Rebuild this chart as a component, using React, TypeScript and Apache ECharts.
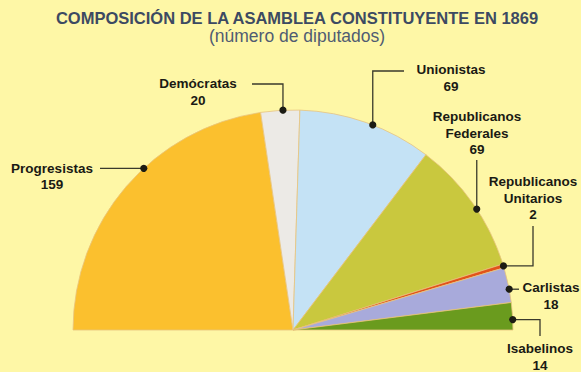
import React, { useEffect, useRef } from "react";
import * as echarts from "echarts";

const titleText = "COMPOSICIÓN DE LA ASAMBLEA CONSTITUYENTE EN 1869";
const subtitleText = "(número de diputados)";

const categories = [
  "Progresistas",
  "Demócratas",
  "Unionistas",
  "Republicanos\nFederales",
  "Republicanos\nUnitarios",
  "Carlistas",
  "Isabelinos",
];
const values = [159, 20, 69, 69, 2, 18, 14];
const colors = ["#FBC02E", "#ECEAE6", "#C4E2F5", "#C9C83E", "#E2531A", "#A8AADB", "#6A9B1E"];

const CX = 293;
const CY = 330;
const R = 220;
const FONT = '"Liberation Sans", Arial, sans-serif';

// where the leader dot sits inside each slice (0 = slice start, 1 = slice end)
const dotFractions = [0.58, 0.57, 0.55, 0.55, 0.5, 0.62, 0.62];

type Pt = [number, number];

// label layout for each category: line route from dot, and text anchor (center x, first line center y)
function layoutFor(i: number, d: Pt): { pts: Pt[]; tx: number; ty: number } {
  switch (i) {
    case 0:
      return { pts: [d, [100, d[1]]], tx: 52, ty: d[1] };
    case 1:
      return { pts: [d, [d[0], 84], [252, 84]], tx: 198, ty: 84 };
    case 2:
      return { pts: [d, [d[0], 71], [404, 71]], tx: 451, ty: 70 };
    case 3:
      return { pts: [d, [d[0], 160]], tx: 477, ty: 117 };
    case 4:
      return { pts: [d, [533, d[1]], [533, 226]], tx: 533, ty: 182 };
    case 5:
      return { pts: [d, [519, d[1]]], tx: 551, ty: 288 };
    default:
      return { pts: [d, [540, d[1]], [540, 336]], tx: 540, ty: 349 };
  }
}

export default function App() {
  const ref = useRef<HTMLDivElement>(null);

  useEffect(() => {
    if (!ref.current) return;
    const chart = echarts.init(ref.current, undefined, { renderer: "svg" });
    const total = values.reduce((a, b) => a + b, 0);

    const elements: any[] = [];
    let cum = 0;
    values.forEach((v, i) => {
      const deg = 180 - ((cum + v * dotFractions[i]) / total) * 180;
      cum += v;
      const a = (deg * Math.PI) / 180;
      const dot: Pt = [CX + R * Math.cos(a), CY - R * Math.sin(a)];
      const lay = layoutFor(i, dot);
      elements.push({
        type: "polyline",
        z: 100,
        silent: true,
        shape: { points: lay.pts },
        style: { stroke: "#3a3a2c", lineWidth: 1.3, fill: null },
      });
      elements.push({
        type: "circle",
        z: 101,
        silent: true,
        shape: { cx: dot[0], cy: dot[1], r: 3.6 },
        style: { fill: "#1c1c14" },
      });
      elements.push({
        type: "text",
        z: 101,
        silent: true,
        x: lay.tx,
        y: lay.ty - 8.5,
        style: {
          text: categories[i] + "\n" + v,
          font: `bold 13.5px ${FONT}`,
          fill: "#1a1a14",
          align: "center",
          verticalAlign: "top",
          textAlign: "center",
          textVerticalAlign: "top",
          lineHeight: 16.5,
        },
      });
    });

    chart.setOption({
      animation: false,
      backgroundColor: "#FEF7A6",
      title: {
        text: titleText,
        subtext: subtitleText,
        left: 292,
        textAlign: "center",
        top: 4,
        itemGap: 1,
        textStyle: { fontFamily: FONT, fontSize: 16.5, fontWeight: "bold", color: "#3C4A62" },
        subtextStyle: { fontFamily: FONT, fontSize: 17.5, color: "#505C72" },
      },
      series: [
        {
          type: "pie",
          center: [CX, CY],
          radius: [0, R],
          startAngle: 180,
          endAngle: 360,
          clockwise: true,
          silent: true,
          label: { show: false },
          labelLine: { show: false },
          itemStyle: { borderColor: "#E9C47E", borderWidth: 0.8 },
          data: categories.map((c, i) => ({
            name: c,
            value: values[i],
            itemStyle: { color: colors[i] },
          })),
        },
      ],
      graphic: { elements },
    });
    return () => chart.dispose();
  }, []);

  return (
    <div
      ref={ref}
      style={{ position: "fixed", left: 0, top: 0, width: 581, height: 372 }}
    />
  );
}
